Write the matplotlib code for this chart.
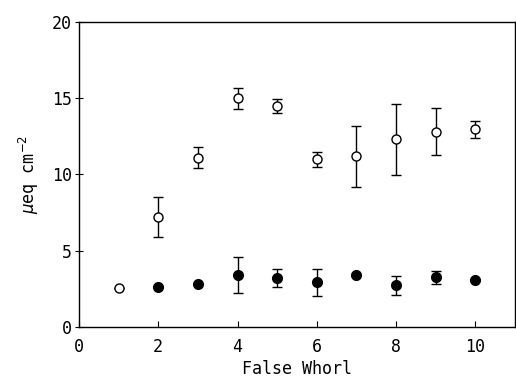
import matplotlib
matplotlib.use('Agg')
import matplotlib.pyplot as plt
import numpy as np

# valores
whorl_open = [1, 2, 3, 4, 5, 6, 7, 8, 9, 10]
open_val = [2.55, 7.2, 11.1, 15.0, 14.5, 11.0, 11.2, 12.3, 12.8, 12.95]
open_err = [0.0, 1.3, 0.7, 0.7, 0.45, 0.5, 2.0, 2.35, 1.55, 0.55]

whorl_fill = [2, 3, 4, 5, 6, 7, 8, 9, 10]
fill_val = [2.6, 2.8, 3.4, 3.2, 2.93, 3.41, 2.72, 3.25, 3.06]
fill_err = [0.0, 0.0, 1.2, 0.6, 0.87, 0.0, 0.65, 0.45, 0.0]

plt.rcParams['font.family'] = ['DejaVu Sans Mono']

fig = plt.figure(figsize=(5.16, 3.86), dpi=100)
ax = fig.add_axes([0.153, 0.153, 0.845, 0.79])

ax.errorbar(whorl_open, open_val, yerr=open_err, fmt='o', mfc='white', mec='black',
            ecolor='black', ms=6.5, mew=1.0, capsize=3.5, elinewidth=1.0, capthick=1.0)
ax.errorbar(whorl_fill, fill_val, yerr=fill_err, fmt='o', mfc='black', mec='black',
            ecolor='black', ms=7, capsize=3.5, elinewidth=1.0, capthick=1.0)

ax.set_xlim(0, 11)
ax.set_ylim(0, 20)
ax.set_xticks([0, 2, 4, 6, 8, 10])
ax.set_yticks([0, 5, 10, 15, 20])
ax.tick_params(axis='x', direction='in', length=4, labelsize=12, pad=8)
ax.tick_params(axis='y', direction='inout', length=6, labelsize=12, pad=2)
for s in ax.spines.values():
    s.set_linewidth(1.0)

ax.set_xlabel('False Whorl', fontsize=12, labelpad=3)
ax.set_ylabel(r'$\mu$eq cm$^{-2}$', fontsize=12, labelpad=8)

fig.savefig('out.png', dpi=100)
